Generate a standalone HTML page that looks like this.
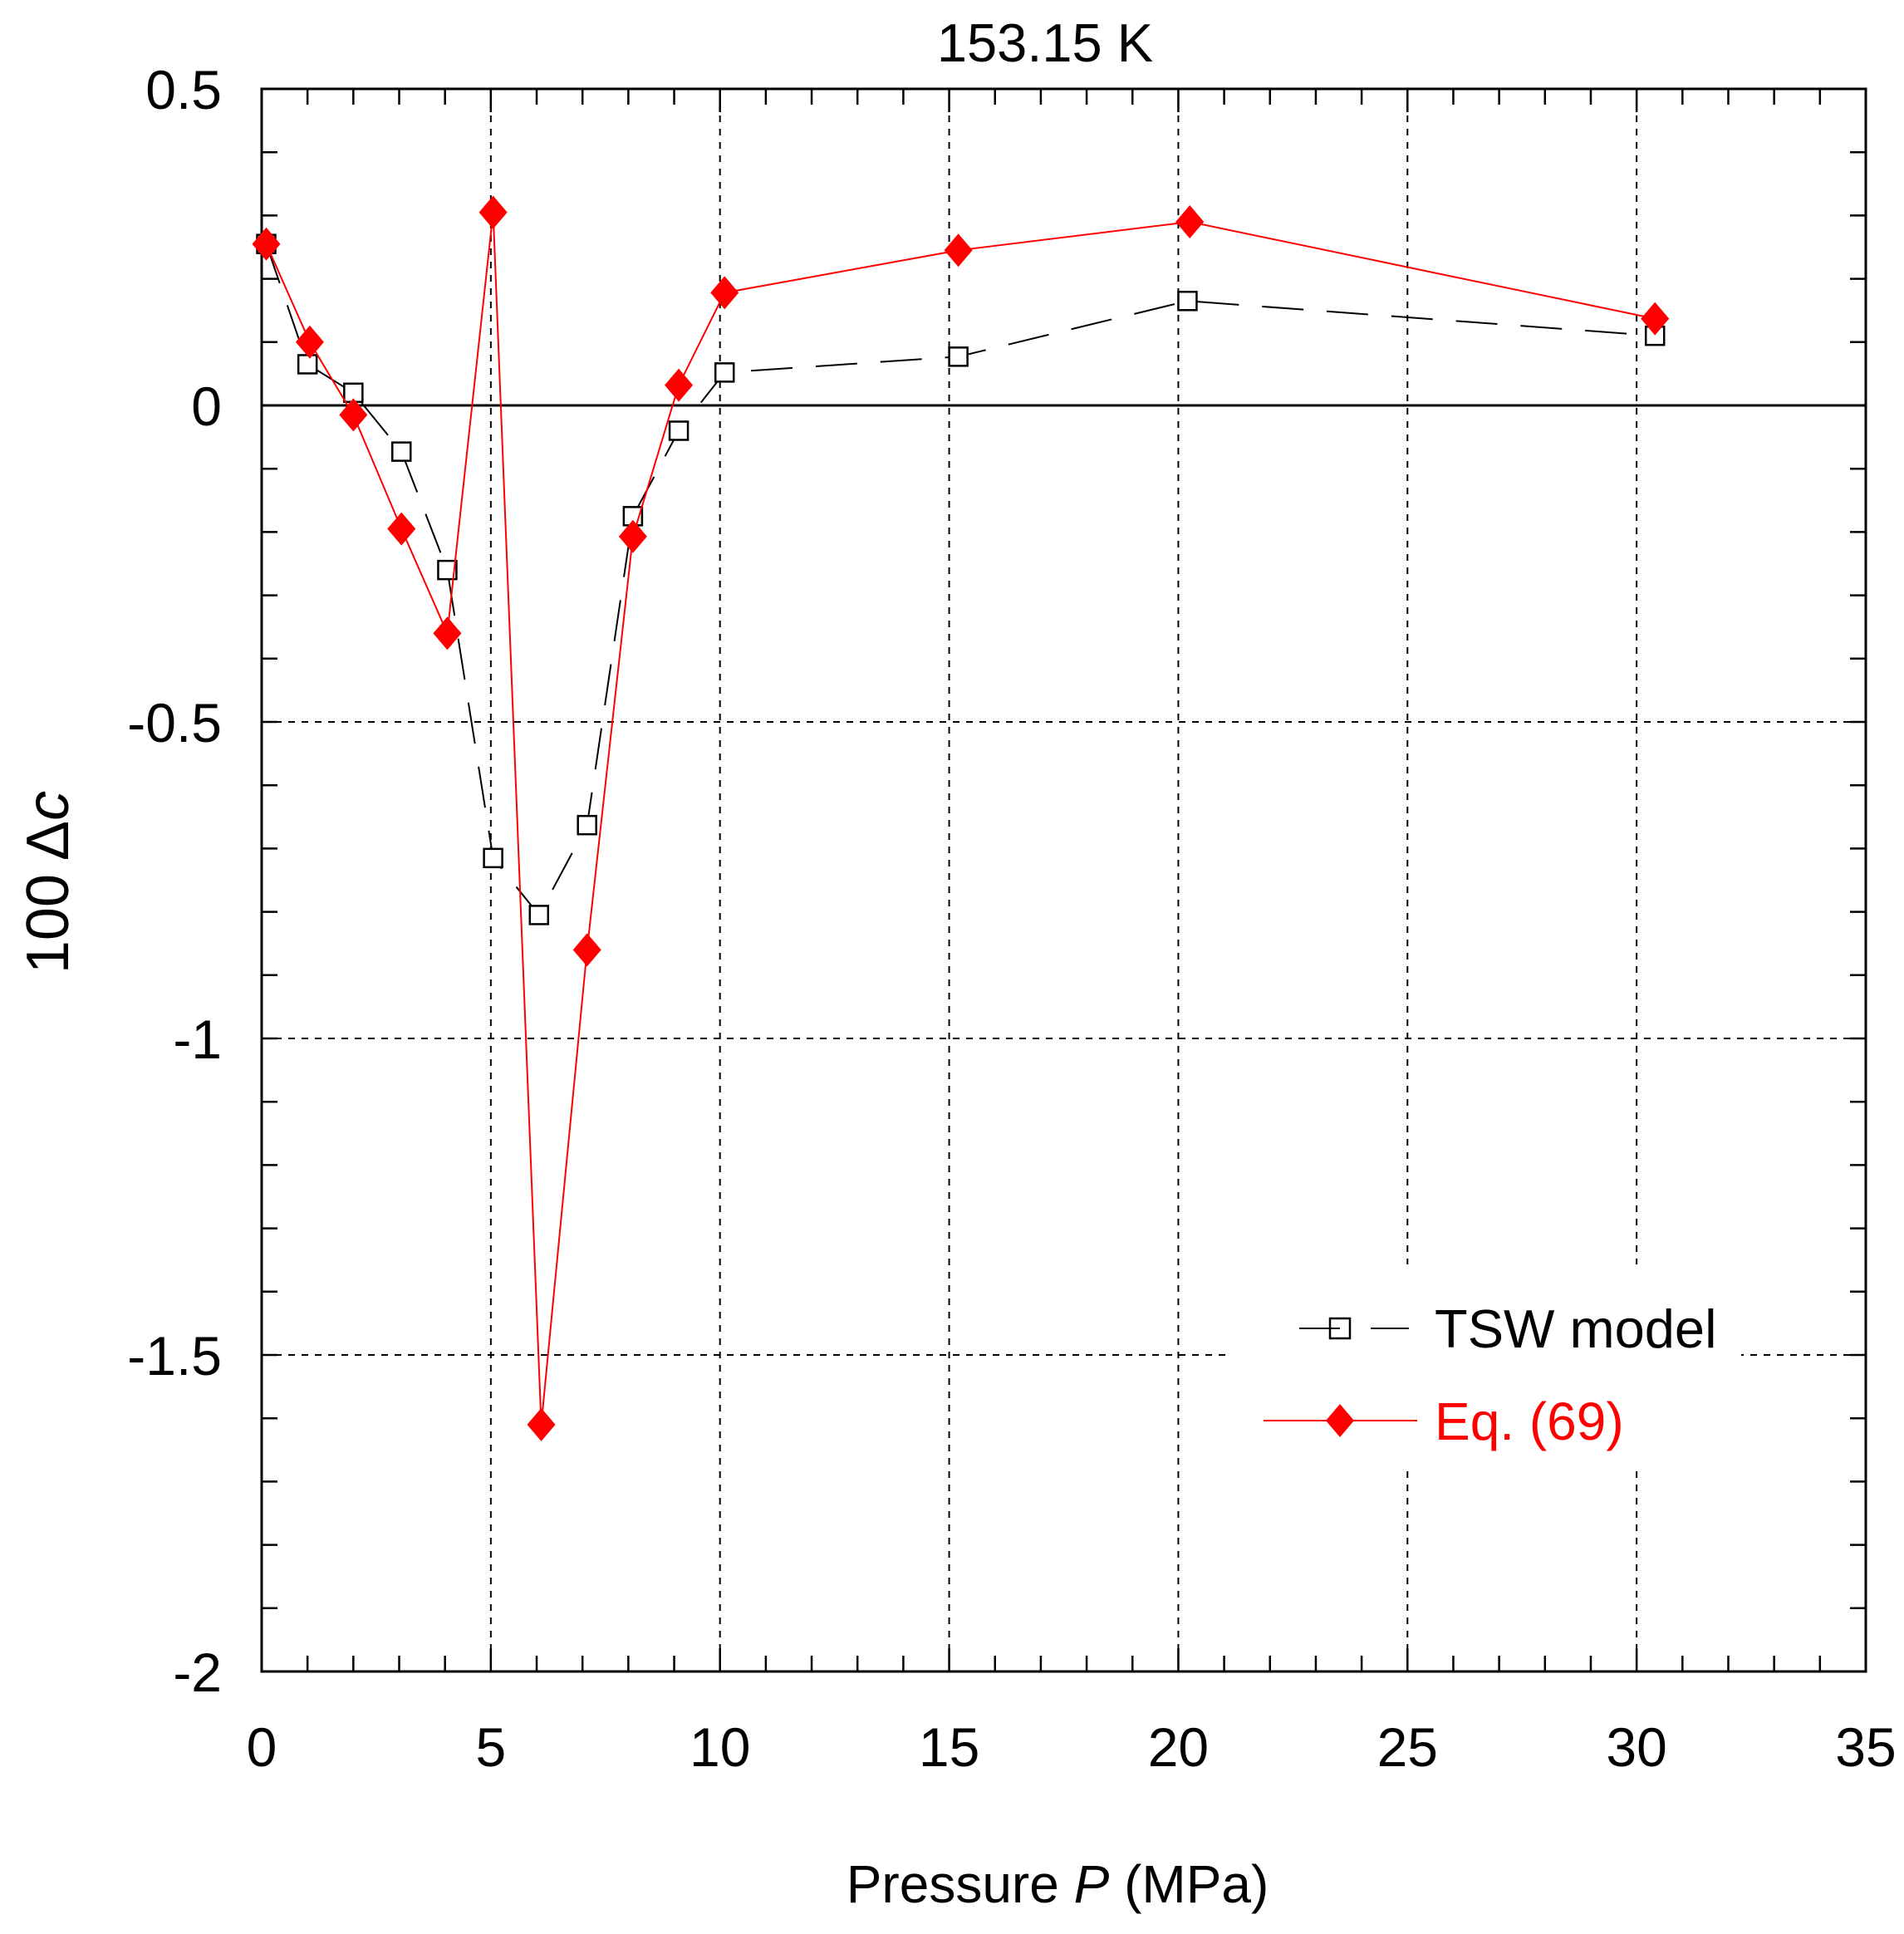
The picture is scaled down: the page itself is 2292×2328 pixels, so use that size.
<!DOCTYPE html>
<html><head><meta charset="utf-8"><style>
html,body{margin:0;padding:0;background:#fff;}
svg{display:block;}
text{font-family:"Liberation Sans",sans-serif;}
</style></head><body>
<svg id="s" width="2292" height="2328" viewBox="0 0 2292 2328" xmlns="http://www.w3.org/2000/svg">
<rect width="2292" height="2328" fill="#fff"/>
<g id="grid"></g>
<rect x="1479" y="1522" width="617" height="246" fill="#fff"/>
<g id="axes"></g>
<g id="data"></g>
<text x="1258" y="74" font-size="65" text-anchor="middle">153.15 K</text>
<text x="1273" y="2290" font-size="64" text-anchor="middle">Pressure <tspan font-style="italic">P</tspan> (MPa)</text>
<text transform="translate(82,1062) rotate(-90)" font-size="72" text-anchor="middle">100 Δ<tspan font-style="italic">c</tspan></text>
<line x1="1564" y1="1599" x2="1613" y2="1599" stroke="#000" stroke-width="2"/>
<line x1="1650" y1="1599" x2="1696" y2="1599" stroke="#000" stroke-width="2"/>
<rect x="1601" y="1587" width="24" height="24" fill="none" stroke="#000" stroke-width="2.5"/>
<text x="1727" y="1622" font-size="65">TSW model</text>
<line x1="1521" y1="1710" x2="1706" y2="1710" stroke="#f00" stroke-width="2"/>
<polygon points="1613,1690 1630,1710 1613,1730 1596,1710" fill="#f00"/>
<text x="1727" y="1733" font-size="64" fill="#f00">Eq. (69)</text>
</svg>
<script>
var NS="http://www.w3.org/2000/svg";
var L=315,R=2246,T=107,B=2012;
function X(p){return L+(R-L)*p/35;}
function Y(v){return T+(B-T)*(0.5-v)/2.5;}
function el(g,n,a){var e=document.createElementNS(NS,n);for(var k in a)e.setAttribute(k,a[k]);document.getElementById(g).appendChild(e);return e;}
[5,10,15,20,25,30].forEach(function(p){el("grid","line",{x1:X(p),y1:T,x2:X(p),y2:B,stroke:"#000","stroke-width":2,"stroke-dasharray":"8 8"});});
[-0.5,-1,-1.5].forEach(function(v){el("grid","line",{x1:L,y1:Y(v),x2:R,y2:Y(v),stroke:"#000","stroke-width":2,"stroke-dasharray":"8 8"});});
el("axes","rect",{x:L,y:T,width:R-L,height:B-T,fill:"none",stroke:"#000","stroke-width":3});
el("axes","line",{x1:L,y1:Y(0),x2:R,y2:Y(0),stroke:"#000","stroke-width":3});
for(var p=1;p<35;p++){var len=(p%5==0)?28:19;
el("axes","line",{x1:X(p),y1:B,x2:X(p),y2:B-len,stroke:"#000","stroke-width":2.5});
el("axes","line",{x1:X(p),y1:T,x2:X(p),y2:T+len,stroke:"#000","stroke-width":2.5});}
for(var i=1;i<25;i++){var v=0.5-i*0.1;var yy=Y(v);
el("axes","line",{x1:L,y1:yy,x2:L+19,y2:yy,stroke:"#000","stroke-width":2.5});
el("axes","line",{x1:R,y1:yy,x2:R-19,y2:yy,stroke:"#000","stroke-width":2.5});}
[0,5,10,15,20,25,30,35].forEach(function(p){var t=el("axes","text",{x:X(p),y:2126,"font-size":66,"text-anchor":"middle"});t.textContent=p;});
[[0.5,"0.5"],[0,"0"],[-0.5,"-0.5"],[-1,"-1"],[-1.5,"-1.5"],[-2,"-2"]].forEach(function(a){var t=el("axes","text",{x:267,y:Y(a[0])+24,"font-size":66,"text-anchor":"end"});t.textContent=a[1];});
var red=[[0.1,0.255],[1.05,0.1],[2.0,-0.015],[3.05,-0.195],[4.05,-0.36],[5.05,0.305],[6.1,-1.61],[7.1,-0.86],[8.1,-0.207],[9.1,0.032],[10.1,0.178],[15.2,0.245],[20.25,0.29],[30.4,0.137]];
var blk=[[0.1,0.255],[1.0,0.065],[2.0,0.02],[3.05,-0.073],[4.05,-0.26],[5.05,-0.715],[6.05,-0.805],[7.1,-0.663],[8.1,-0.175],[9.1,-0.04],[10.1,0.052],[15.2,0.077],[20.2,0.165],[30.4,0.11]];
el("data","polyline",{points:blk.map(function(d){return X(d[0])+","+Y(d[1]);}).join(" "),fill:"none",stroke:"#000","stroke-width":2,"stroke-dasharray":"50 28"});
blk.forEach(function(d){el("data","rect",{x:X(d[0])-11,y:Y(d[1])-11,width:22,height:22,fill:"#fff",stroke:"#000","stroke-width":2.5});});
el("data","polyline",{points:red.map(function(d){return X(d[0])+","+Y(d[1]);}).join(" "),fill:"none",stroke:"#f00","stroke-width":2});
red.forEach(function(d){var x=X(d[0]),y=Y(d[1]);el("data","polygon",{points:x+","+(y-20)+" "+(x+17)+","+y+" "+x+","+(y+20)+" "+(x-17)+","+y,fill:"#f00"});});
</script>
</body></html>
